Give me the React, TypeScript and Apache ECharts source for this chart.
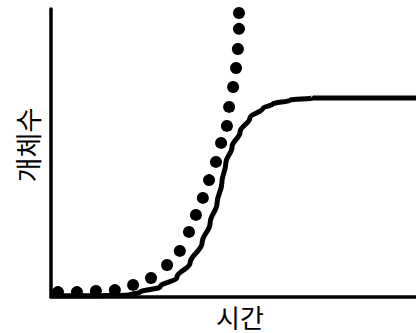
import React, { useEffect, useRef } from "react";
import * as echarts from "echarts";

// J-curve (dotted): exponential growth
const jTime = [1.9, 7.1, 12.3, 17.5, 22.5, 27.4, 31.8, 35.3, 37.8, 39.7, 41.6, 43.3, 45.2, 46.6, 48.2, 48.8, 49.9, 50.7, 51.2, 51.5, 51.5];
const jCount = [1.7, 1.7, 2.1, 2.4, 4.2, 6.6, 11.1, 16.0, 22.6, 28.5, 34.4, 40.6, 46.9, 53.5, 59.4, 66.0, 72.9, 79.5, 86.1, 93.1, 98.6];

// S-curve (solid): logistic growth
const sTime = [0, 13.4, 21.6, 24.4, 29.9, 34.5, 38.1, 41.4, 43.6, 45.5, 46.8, 47.9, 49.6, 51.8, 54.5, 58.1, 60.8, 65.5, 71.8, 100];
const sCount = [0.4, 0.4, 0.7, 1.7, 3.5, 6.9, 11.8, 18.8, 25.7, 32.6, 39.6, 46.5, 52.1, 57.3, 62.2, 65.6, 67.0, 68.4, 69.1, 69.1];

const xTitle = "시간";
const yTitle = "개체수";

export default function App() {
  const ref = useRef<HTMLDivElement>(null);
  useEffect(() => {
    document.body.style.margin = "0";
    if (!ref.current) return;
    const chart = echarts.init(ref.current, null, { renderer: "svg" });
    const font = "'Noto Sans CJK KR', 'Noto Sans', sans-serif";
    chart.setOption({
      animation: false,
      backgroundColor: "#ffffff",
      grid: { left: 51, right: 0, top: 9, bottom: 36 },
      xAxis: {
        type: "value",
        min: 0,
        max: 100,
        axisLine: { show: true, lineStyle: { color: "#000", width: 3.5 } },
        axisTick: { show: false },
        axisLabel: { show: false },
        splitLine: { show: false },
      },
      yAxis: {
        type: "value",
        min: 0,
        max: 100,
        axisLine: { show: true, lineStyle: { color: "#000", width: 3.5 } },
        axisTick: { show: false },
        axisLabel: { show: false },
        splitLine: { show: false },
      },
      graphic: [
        {
          type: "text",
          x: 240,
          y: 316,
          style: {
            text: xTitle,
            fontSize: 26,
            fontFamily: font,
            fill: "#000",
            align: "center",
            verticalAlign: "middle",
          },
        },
        {
          type: "text",
          x: 27,
          y: 145,
          rotation: Math.PI / 2,
          style: {
            text: yTitle,
            fontSize: 27,
            fontFamily: font,
            fill: "#000",
            align: "center",
            verticalAlign: "middle",
          },
        },
      ],
      series: [
        {
          type: "line",
          data: sTime.map((t, i) => [t, sCount[i]]),
          smooth: 0.4,
          smoothMonotone: "y",
          symbol: "none",
          clip: false,
          lineStyle: { color: "#000", width: 5 },
        },
        {
          type: "scatter",
          data: jTime.map((t, i) => [t, jCount[i]]),
          symbol: "circle",
          symbolSize: 12,
          clip: false,
          itemStyle: { color: "#000", opacity: 1 },
        },
      ],
    });
    return () => chart.dispose();
  }, []);
  return <div ref={ref} style={{ width: 416, height: 333 }} />;
}
